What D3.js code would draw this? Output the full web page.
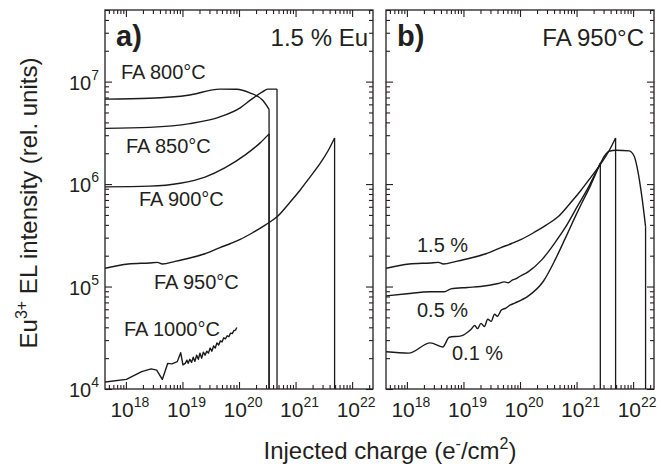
<!DOCTYPE html>
<html><head><meta charset="utf-8">
<script src="https://cdn.jsdelivr.net/npm/d3@7"></script>
<style>
body{margin:0;background:#fff}
text{font-family:"Liberation Sans",Arial,Helvetica,sans-serif;fill:#231f20}
</style>
</head><body>
<svg id="chart" width="661" height="469"></svg>
<script>
// ---------- data ----------
const xDomain = [4.27e17, 2.34e22];
const yDomain = [1e4, 5e7];
const xMajorTicks = [1e18, 1e19, 1e20, 1e21, 1e22];
const xTickExponents = ["18", "19", "20", "21", "22"];
const yMajorTicks = [1e4, 1e5, 1e6, 1e7];
const yTickExponents = ["4", "5", "6", "7"];

// panel a) 1.5 % Eu, different flash-anneal temperatures  [injected charge, EL intensity]
const fa800 = [[4.3e17,6.75e6],[2.6e18,6.87e6],[1.35e19,7.41e6],[4.6e19,8.45e6],[9.1e19,8.41e6],[1.55e20,7.76e6],[2.6e20,6.61e6],[3.4e20,5.37e6]];
const fa850 = [[4.3e17,3.5e6],[2.6e18,3.58e6],[1.35e19,3.89e6],[4.6e19,4.53e6],[1.05e20,5.55e6],[1.7e20,6.79e6],[2.6e20,7.94e6],[3.2e20,8.45e6],[4.7e20,8.45e6]];
const fa900 = [[4.3e17,9.4e5],[2.6e18,9.55e5],[9.1e18,1.02e6],[2.5e19,1.17e6],[5.6e19,1.44e6],[1.29e20,1.93e6],[2.34e20,2.51e6],[3.4e20,3.09e6]];
const fa950 = [[4.3e17,1.51e5],[1.1e18,1.66e5],[2.6e18,1.70e5],[3.6e18,1.72e5],[4.4e18,1.66e5],[7.4e18,1.76e5],[1.35e19,1.9e5],[2.5e19,2.09e5],[4.6e19,2.4e5],[7.1e19,2.63e5],[1.05e20,2.88e5],[1.8e20,3.39e5],[2.9e20,3.98e5],[4.7e20,4.79e5],[7.9e20,6.61e5],[1.2e21,8.71e5],[1.8e21,1.17e6],[2.7e21,1.58e6],[3.8e21,2.14e6],[4.9e21,2.82e6]];
const fa1000 = [[4.3e17,1.17e4],[1.02e18,1.24e4],[1.9e18,1.48e4],[2.8e18,1.57e4],[3.5e18,1.53e4],[4.4e18,1.24e4],[5.5e18,1.78e4],[6.5e18,1.76e4],[8.1e18,1.85e4],[9.3e18,2.26e4],[1.02e19,1.72e4],
  [1.12e19,1.78e4],[1.2e19,1.91e4],[1.26e19,1.78e4],[1.35e19,1.95e4],[1.45e19,1.82e4],[1.55e19,2.04e4],[1.66e19,1.86e4],[1.78e19,2.14e4],[1.91e19,1.95e4],[2.04e19,2.24e4],[2.19e19,2.0e4],[2.34e19,2.29e4],[2.51e19,2.14e4],[2.69e19,2.34e4],[2.88e19,2.24e4],[3.09e19,2.51e4],[3.31e19,2.34e4],[3.55e19,2.63e4],[3.8e19,2.51e4],[4.07e19,2.82e4],[4.37e19,2.69e4],[4.68e19,2.95e4],[5.01e19,2.88e4],[5.37e19,3.16e4],[5.75e19,3.09e4],[6.17e19,3.31e4],[6.61e19,3.24e4],[7.08e19,3.51e4],[7.59e19,3.47e4],[8.13e19,3.72e4],[8.71e19,3.76e4],[9.12e19,3.98e4]];

// panel b) FA 950 °C, different Eu concentrations
const eu15 = fa950;
const eu05 = [[4.3e17,8.1e4],[1.0e18,8.5e4],[2.6e18,8.9e4],[4.6e18,8.9e4],[6.0e18,9.5e4],[1.17e19,9.8e4],[2.0e19,1.0e5],[4.1e19,1.07e5],[5.3e19,1.11e5],[6.2e19,1.09e5],[7.2e19,1.15e5],[8.1e19,1.18e5],[1.0e20,1.26e5],[1.41e20,1.4e5],[2.42e20,1.82e5],[4.13e20,2.67e5],[6.24e20,3.73e5],[1.02e21,5.98e5],[1.66e21,9.55e5],[2.63e21,1.6e6]];
const eu01 = [[4.3e17,2.31e4],[1.07e18,2.24e4],[2.6e18,2.82e4],[4.3e18,2.57e4],[5.6e18,3.2e4],[9.1e18,3.3e4],[1.35e19,3.8e4],[1.58e19,4.17e4],[1.78e19,3.89e4],[2.04e19,4.37e4],[2.34e19,4.07e4],[2.69e19,4.79e4],[3.09e19,4.57e4],[3.55e19,5.37e4],[3.98e19,5.13e4],[4.68e19,5.89e4],[5.62e19,6.17e4],[6.76e19,6.61e4],[8.1e19,6.9e4],[1.41e20,8.1e4],[2.57e20,1.12e5],[4.17e20,1.82e5],[6.31e20,2.95e5],[8.91e20,4.47e5],[1.2e21,6.31e5],[1.78e21,9.77e5],[2.63e21,1.58e6],[3.16e21,1.9e6],[3.76e21,2.09e6],[5.0e21,2.14e6],[8.5e21,2.11e6],[1.05e22,1.86e6],[1.17e22,1.48e6],[1.29e22,1.1e6],[1.45e22,7.1e5],[1.66e22,3.85e5]];

const panelA = {tag:"a)", title:"1.5 % Eu", titleEnd:368, series:[fa800, fa850, fa900, fa950, fa1000],
  labels:[["FA 800°C",121,79],["FA 850°C",126,153],["FA 900°C",139,206],["FA 950°C",154,289],["FA 1000°C",124,336]]};
const panelB = {tag:"b)", title:"FA 950°C", titleEnd:644, series:[eu15, eu05, eu01],
  labels:[["1.5 %",417,252],["0.5 %",417,317],["0.1 %",452,360]]};

// ---------- layout ----------
const svg = d3.select("#chart");
const plotTop = 10, plotBottom = 389;
const panels = [{p:panelA, x0:105, x1:373},{p:panelB, x0:386, x1:654}];
const y = d3.scaleLog().domain(yDomain).range([plotBottom, plotTop]);

panels.forEach(({p, x0, x1}) => {
  const x = d3.scaleLog().domain(xDomain).range([x0, x1]);
  const g = svg.append("g");
  const allX = x.ticks().filter(v => v >= xDomain[0] && v <= xDomain[1]);
  const allY = y.ticks().filter(v => v >= yDomain[0] && v <= yDomain[1]);
  const isMajor = v => Math.abs(Math.log10(v) - Math.round(Math.log10(v))) < 1e-9;
  const minorX = allX.filter(v => !isMajor(v));
  const minorY = allY.filter(v => !isMajor(v));

  function addAxis(axis, transform){
    const a = g.append("g").attr("transform", transform).call(axis);
    a.select(".domain").remove();
    a.selectAll("text").remove();
    a.selectAll("line").attr("stroke","#231f20").attr("stroke-width",1.1);
  }
  addAxis(d3.axisBottom(x).tickValues(xMajorTicks).tickSize(-7), `translate(0,${plotBottom})`);
  addAxis(d3.axisBottom(x).tickValues(minorX).tickSize(-4), `translate(0,${plotBottom})`);
  addAxis(d3.axisTop(x).tickValues(xMajorTicks).tickSize(-7), `translate(0,${plotTop})`);
  addAxis(d3.axisTop(x).tickValues(minorX).tickSize(-4), `translate(0,${plotTop})`);
  addAxis(d3.axisLeft(y).tickValues(yMajorTicks).tickSize(-7), `translate(${x0},0)`);
  addAxis(d3.axisLeft(y).tickValues(minorY).tickSize(-4), `translate(${x0},0)`);
  addAxis(d3.axisRight(y).tickValues(yMajorTicks).tickSize(-7), `translate(${x1},0)`);
  addAxis(d3.axisRight(y).tickValues(minorY).tickSize(-4), `translate(${x1},0)`);

  g.append("rect").attr("x",x0).attr("y",plotTop).attr("width",x1-x0).attr("height",plotBottom-plotTop)
    .attr("fill","none").attr("stroke","#231f20").attr("stroke-width",1.3);

  xMajorTicks.forEach((v,i) => {
    const t = g.append("text").attr("x", x(v)+4).attr("y", plotBottom+28).attr("text-anchor","middle")
      .style("font-size","21px");
    t.append("tspan").text("10");
    t.append("tspan").attr("dy",-10).style("font-size","14px").text(xTickExponents[i]);
  });

  p.series.forEach(s => {
    const curve = s === fa1000 ? d3.curveLinear : d3.curveMonotoneX;
    const line = d3.line().x(d => x(d[0])).y(d => y(d[1])).curve(curve);
    g.append("path").datum(s).attr("d", line).attr("fill","none")
      .attr("stroke","#1a1a1a").attr("stroke-width",1.4).attr("stroke-linejoin","round");
  });
  p.series.filter(s => s !== fa1000).forEach(s => {
    const last = s[s.length-1];
    g.append("line").attr("x1", x(last[0])).attr("x2", x(last[0]))
      .attr("y1", y(last[1])).attr("y2", y(yDomain[0]))
      .attr("stroke","#1a1a1a").attr("stroke-width",1.3);
  });

  p.labels.forEach(([txt, lx, ly]) => {
    g.append("text").attr("x",lx).attr("y",ly).style("font-size","20px").text(txt);
  });
  g.append("text").attr("x", x0+11).attr("y", 46).style("font-size","29px").style("font-weight","bold").text(p.tag);
  g.append("text").attr("x", p.titleEnd).attr("y", 46).attr("text-anchor","end").style("font-size","24px").text(p.title);
});

yMajorTicks.forEach((v,i) => {
  const t = svg.append("text").attr("x", 99).attr("y", y(v)+8).attr("text-anchor","end").style("font-size","20px");
  t.append("tspan").text("10");
  t.append("tspan").attr("dy",-10).style("font-size","14px").text(yTickExponents[i]);
});

const yt = svg.append("text").attr("transform","translate(37,203) rotate(-90)").attr("text-anchor","middle").style("font-size","24px");
yt.append("tspan").text("Eu");
yt.append("tspan").attr("dy",-10).style("font-size","16px").text("3+");
yt.append("tspan").attr("dy",10).text(" EL intensity (rel. units)");

const xt = svg.append("text").attr("x",390).attr("y",459).attr("text-anchor","middle").style("font-size","24px");
xt.append("tspan").text("Injected charge (e");
xt.append("tspan").attr("dy",-10).style("font-size","16px").text("-");
xt.append("tspan").attr("dy",10).text("/cm");
xt.append("tspan").attr("dy",-10).style("font-size","16px").text("2");
xt.append("tspan").attr("dy",10).text(")");
</script>
</body></html>
